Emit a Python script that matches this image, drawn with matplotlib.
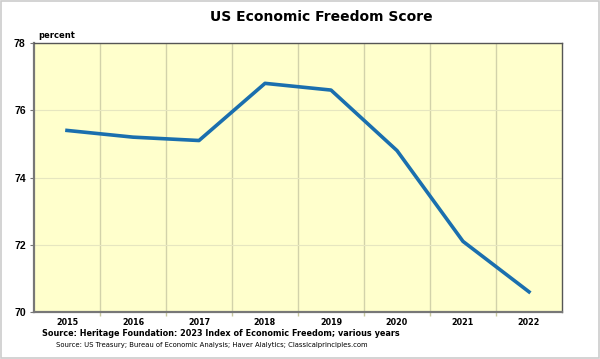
import matplotlib.pyplot as plt
from matplotlib.patches import Rectangle

years = ["2015", "2016", "2017", "2018", "2019", "2020", "2021", "2022"]
scores = [75.4, 75.2, 75.1, 76.8, 76.6, 74.8, 72.1, 70.6]
y_ticks = [70, 72, 74, 76, 78]

plt.rcParams["font.family"] = ["DejaVu Sans"]

fig = plt.figure(figsize=(6, 3.59), dpi=100)
ax = fig.add_axes([34 / 600, 1 - 312 / 359, 528 / 600, 269 / 359])
ax.set_facecolor("#ffffcc")

x = list(range(len(years)))
ax.plot(x, scores, color="#1a6fae", linewidth=2.6, solid_joinstyle="round", zorder=3)

ax.set_xlim(-0.5, len(years) - 0.5)
ax.set_ylim(70, 78)
ax.set_yticks(y_ticks)
ax.set_yticklabels([str(v) for v in y_ticks], fontsize=7.5, fontweight="bold",
                   family="Liberation Sans")
ax.set_xticks(x)
ax.set_xticklabels(years, fontsize=5.8, fontweight="bold")
ax.set_xticks([i + 0.5 for i in x[:-1]], minor=True)

ax.tick_params(axis="x", which="major", length=0, pad=4.5)
ax.tick_params(axis="x", which="minor", length=3, color="#c8c8a0", width=1)
ax.tick_params(axis="y", length=3, pad=3, color="#777777")

ax.grid(axis="x", which="minor", color="#d2d2aa", linewidth=1)
ax.grid(axis="y", which="major", color="#e6e6c0", linewidth=0.8)
ax.set_axisbelow(True)

for side in ["left", "bottom"]:
    ax.spines[side].set_color("#777777")
    ax.spines[side].set_linewidth(1.6)
for side in ["top", "right"]:
    ax.spines[side].set_color("#555555")
    ax.spines[side].set_linewidth(1.0)

fig.text(321 / 600, 1 - 17 / 359, "US Economic Freedom Score", ha="center", va="center",
         fontsize=10, fontweight="bold")
fig.text(38 / 600, 1 - 36 / 359, "percent", ha="left", va="center", fontsize=6, fontweight="bold")
fig.text(42 / 600, 1 - 333 / 359, "Source: Heritage Foundation: 2023 Index of Economic Freedom; various years",
         ha="left", va="center", fontsize=5.85, fontweight="bold")
fig.text(56 / 600, 1 - 345 / 359, "Source: US Treasury; Bureau of Economic Analysis; Haver Alalytics; Classicalprinciples.com",
         ha="left", va="center", fontsize=4.95)

fig.patches.append(Rectangle((0.002, 0.003), 0.996, 0.994, transform=fig.transFigure,
                             fill=False, edgecolor="#cccccc", linewidth=1.2))

fig.savefig("out.png", dpi=100)
